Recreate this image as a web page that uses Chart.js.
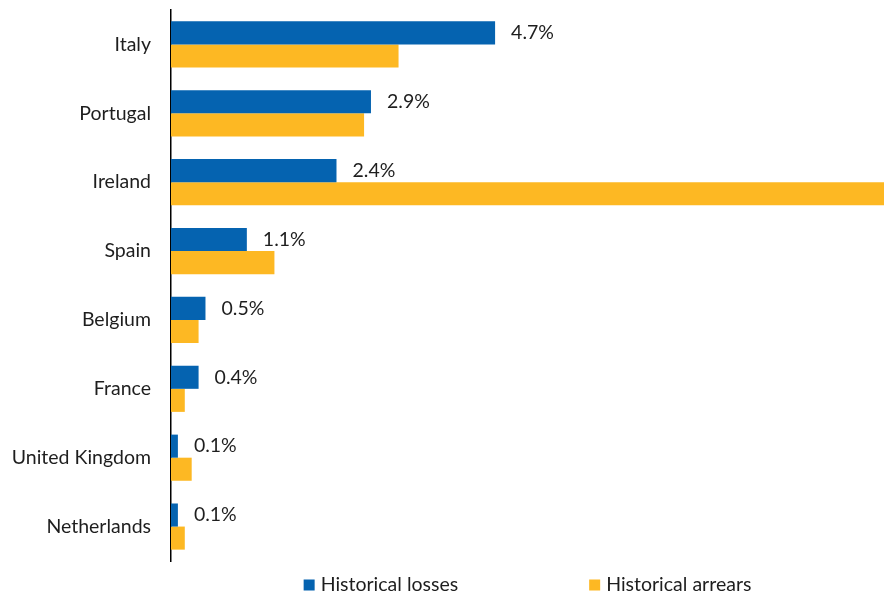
<!DOCTYPE html>
<html>
<head>
    <script src="https://cdn.jsdelivr.net/npm/chart.js@4.4.0/dist/chart.umd.min.js"></script>
    <style>
    body { margin: 0; background: #ffffff; }
    #wrap { width: 884px; height: 593px; position: relative; }
    </style>
    <title>Historical losses and arrears</title>
</head>
<body>
<div id="wrap"><canvas id="myChart"></canvas></div>

<script>
    var countries = ['Italy', 'Portugal', 'Ireland', 'Spain', 'Belgium', 'France', 'United Kingdom', 'Netherlands'];
    var losses = [4.7, 2.9, 2.4, 1.1, 0.5, 0.4, 0.1, 0.1];
    var arrears = [3.3, 2.8, 11.5, 1.5, 0.4, 0.2, 0.3, 0.2];
    var seriesNames = ['Historical losses', 'Historical arrears'];
    var xMax = 10.34;

    var FONT = 'Lato, "Open Sans", sans-serif';
    var FONT_SIZE = 19.5;
    var TEXT = '#1e1e1e';

    // value labels to the right of the blue bars
    var valueLabels = {
        id: 'valueLabels',
        afterDatasetsDraw: function (chart) {
            var ctx = chart.ctx;
            var meta = chart.getDatasetMeta(0);
            ctx.save();
            ctx.font = FONT_SIZE + 'px ' + FONT;
            ctx.fillStyle = TEXT;
            ctx.textAlign = 'left';
            ctx.textBaseline = 'middle';
            meta.data.forEach(function (bar, i) {
                ctx.fillText(losses[i].toFixed(1) + '%', bar.x + 16, bar.y);
            });
            ctx.restore();
        }
    };

    // legend centred under the plot area
    var bottomLegend = {
        id: 'bottomLegend',
        afterDraw: function (chart) {
            var ctx = chart.ctx;
            var area = chart.chartArea;
            var box = 11, gapText = 6, gapItems = 131;
            ctx.save();
            ctx.font = FONT_SIZE + 'px ' + FONT;
            ctx.textBaseline = 'middle';
            var widths = chart.data.datasets.map(function (ds) {
                return box + gapText + ctx.measureText(ds.label).width;
            });
            var total = widths[0] + gapItems + widths[1];
            var x = (area.left + area.right) / 2 - total / 2;
            var y = 585;
            chart.data.datasets.forEach(function (ds, i) {
                ctx.fillStyle = ds.backgroundColor;
                ctx.fillRect(x, y - box / 2, box, box);
                ctx.fillStyle = TEXT;
                ctx.fillText(ds.label, x + box + gapText, y);
                x += widths[i] + gapItems;
            });
            ctx.restore();
        }
    };

    var ctx = document.getElementById('myChart').getContext('2d');
    var myChart = new Chart(ctx, {
        type: 'bar',
        data: {
            labels: countries,
            datasets: [
                {
                    label: seriesNames[0],
                    data: losses,
                    backgroundColor: '#0563b0',
                    barPercentage: 1,
                    categoryPercentage: 0.67
                },
                {
                    label: seriesNames[1],
                    data: arrears,
                    backgroundColor: '#fdb823',
                    barPercentage: 1,
                    categoryPercentage: 0.67
                }
            ]
        },
        options: {
            indexAxis: 'y',
            responsive: true,
            maintainAspectRatio: false,
            animation: false,
            layout: { padding: { top: 10, right: 0, bottom: 32, left: 0 } },
            scales: {
                x: {
                    display: false,
                    min: 0,
                    max: xMax
                },
                y: {
                    grid: { display: false, drawTicks: true, tickLength: 20 },
                    border: { display: true, color: '#000000', width: 1.5 },
                    ticks: {
                        color: TEXT,
                        font: { family: FONT, size: FONT_SIZE },
                        padding: 0
                    },
                    afterFit: function (axis) {
                        axis.width = 171;
                        axis.paddingTop = 0;
                        axis.paddingBottom = 0;
                    }
                }
            },
            plugins: {
                legend: { display: false },
                tooltip: { enabled: false }
            }
        },
        plugins: [valueLabels, bottomLegend]
    });
</script>
</body>
</html>
